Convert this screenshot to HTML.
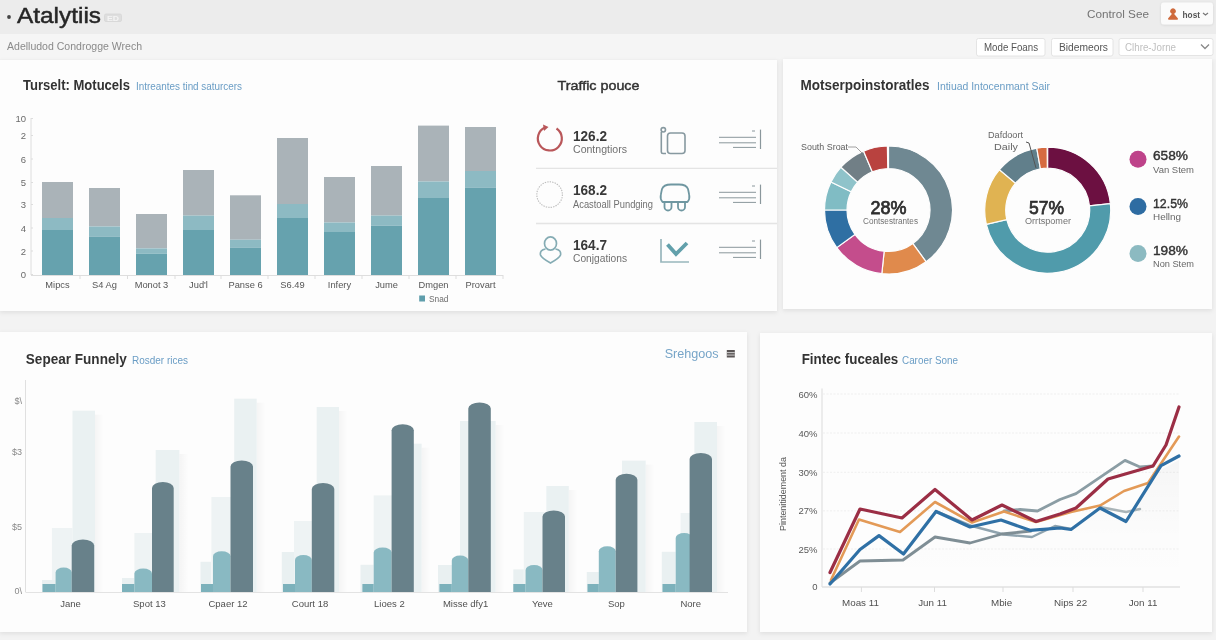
<!DOCTYPE html>
<html><head><meta charset="utf-8"><title>Analytics</title>
<style>
html,body{margin:0;padding:0;width:1216px;height:640px;overflow:hidden;background:#f3f3f3;}
svg{display:block;font-family:"Liberation Sans", sans-serif;filter:blur(0.55px);}
</style></head><body>
<svg width="1216" height="640" viewBox="0 0 1216 640">
<defs>
<filter id="sh" x="-20%" y="-30%" width="140%" height="160%"><feDropShadow dx="0" dy="0.5" stdDeviation="0.8" flood-color="#000" flood-opacity="0.12"/></filter>
<filter id="sh2" x="-5%" y="-5%" width="110%" height="110%"><feDropShadow dx="0" dy="1.5" stdDeviation="2" flood-color="#000" flood-opacity="0.09"/></filter>
<linearGradient id="fsh" x1="0" y1="0" x2="1" y2="0"><stop offset="0" stop-color="#000" stop-opacity="0.035"/><stop offset="1" stop-color="#000" stop-opacity="0"/></linearGradient>
<linearGradient id="lsh" x1="0" y1="0" x2="0" y2="1"><stop offset="0" stop-color="#000" stop-opacity="0.03"/><stop offset="0.6" stop-color="#000" stop-opacity="0.005"/><stop offset="1" stop-color="#000" stop-opacity="0"/></linearGradient>
</defs>
<rect x="0" y="0" width="1216" height="640" fill="#f3f3f3"/>
<rect x="0" y="0" width="1216" height="34" fill="#ececec"/>
<rect x="0" y="34" width="1216" height="25" fill="#f5f5f5"/>
<circle cx="9" cy="17" r="1.9" fill="#444"/>
<text x="17" y="22.5" font-size="22" fill="#262626" font-weight="400" text-anchor="start" textLength="84" lengthAdjust="spacingAndGlyphs" stroke="#262626" stroke-width="0.45">Atalytiis</text>
<rect x="104.5" y="14" width="17" height="7.5" rx="1.5" fill="#dedede" stroke="#d6d6d6" stroke-width="0.8"/>
<text x="107" y="20.5" font-size="7" fill="#f4f4f4" font-weight="700" text-anchor="start" textLength="12" lengthAdjust="spacingAndGlyphs" >ED</text>
<text x="1087" y="18" font-size="11.5" fill="#737373" font-weight="400" text-anchor="start" textLength="62" lengthAdjust="spacingAndGlyphs" >Control See</text>
<rect x="1161" y="2.5" width="52" height="22" rx="3" fill="#fbfbfb" filter="url(#sh)"/>
<g fill="#cf6a3c" stroke="#cf6a3c" stroke-linejoin="round"><circle cx="1173" cy="11.2" r="2.4"/><path d="M1169 18.8 L1173 14.2 L1177 18.8 Z" stroke-width="2"/></g>
<text x="1182.5" y="17.5" font-size="9" fill="#555" font-weight="700" text-anchor="start" textLength="17.5" lengthAdjust="spacingAndGlyphs" >host</text>
<path d="M1203 13 L1205.5 15 L1208 13" stroke="#777" stroke-width="1.2" fill="none"/>
<text x="7" y="50" font-size="11" fill="#8a8a8a" font-weight="400" text-anchor="start" textLength="135" lengthAdjust="spacingAndGlyphs" >Adelludod Condrogge Wrech</text>
<rect x="976.5" y="38.5" width="68.5" height="17.5" rx="2" fill="#fff" stroke="#e4e4e4"/>
<text x="984" y="51" font-size="10" fill="#555" font-weight="400" text-anchor="start" textLength="54" lengthAdjust="spacingAndGlyphs" >Mode Foans</text>
<rect x="1051.5" y="38.5" width="61.5" height="17.5" rx="2" fill="#fff" stroke="#e4e4e4"/>
<text x="1059" y="51" font-size="10" fill="#555" font-weight="400" text-anchor="start" textLength="49" lengthAdjust="spacingAndGlyphs" >Bidemeors</text>
<rect x="1119" y="38.5" width="94" height="17" rx="2" fill="#fff" stroke="#e4e4e4"/>
<text x="1125" y="51" font-size="10" fill="#c0c0c0" font-weight="400" text-anchor="start" textLength="51" lengthAdjust="spacingAndGlyphs" >Clhre-Jorne</text>
<path d="M1201 44.5 L1205 48.5 L1209 44.5" stroke="#888" stroke-width="1.3" fill="none"/>
<rect x="0" y="60" width="777" height="251" fill="#fdfdfd" filter="url(#sh2)"/>
<rect x="783" y="59" width="429" height="250" fill="#fdfdfd" filter="url(#sh2)"/>
<rect x="0" y="332" width="747" height="300" fill="#fdfdfd" filter="url(#sh2)"/>
<rect x="760" y="333" width="452" height="299" fill="#fdfdfd" filter="url(#sh2)"/>
<text x="23" y="90.4" font-size="15.5" fill="#333" font-weight="700" text-anchor="start" textLength="107" lengthAdjust="spacingAndGlyphs" >Turselt: Motucels</text>
<text x="136" y="90" font-size="10" fill="#6a9dc5" font-weight="400" text-anchor="start" textLength="106" lengthAdjust="spacingAndGlyphs" >Intreantes tind saturcers</text>
<text x="26" y="122" font-size="9.5" fill="#6a6a6a" font-weight="400" text-anchor="end" >10</text>
<text x="26" y="139" font-size="9.5" fill="#6a6a6a" font-weight="400" text-anchor="end" >2</text>
<text x="26" y="162.5" font-size="9.5" fill="#6a6a6a" font-weight="400" text-anchor="end" >6</text>
<text x="26" y="186" font-size="9.5" fill="#6a6a6a" font-weight="400" text-anchor="end" >5</text>
<text x="26" y="208" font-size="9.5" fill="#6a6a6a" font-weight="400" text-anchor="end" >3</text>
<text x="26" y="231.5" font-size="9.5" fill="#6a6a6a" font-weight="400" text-anchor="end" >4</text>
<text x="26" y="254.5" font-size="9.5" fill="#6a6a6a" font-weight="400" text-anchor="end" >2</text>
<text x="26" y="278" font-size="9.5" fill="#6a6a6a" font-weight="400" text-anchor="end" >0</text>
<line x1="31" y1="118" x2="31" y2="275" stroke="#dedede" stroke-width="1"/>
<line x1="31" y1="275.5" x2="503" y2="275.5" stroke="#dedede" stroke-width="1"/>
<line x1="31" y1="118.5" x2="33" y2="118.5" stroke="#ddd"/>
<line x1="31" y1="135.5" x2="33" y2="135.5" stroke="#ddd"/>
<line x1="31" y1="159.0" x2="33" y2="159.0" stroke="#ddd"/>
<line x1="31" y1="182.5" x2="33" y2="182.5" stroke="#ddd"/>
<line x1="31" y1="204.5" x2="33" y2="204.5" stroke="#ddd"/>
<line x1="31" y1="228.0" x2="33" y2="228.0" stroke="#ddd"/>
<line x1="31" y1="251.0" x2="33" y2="251.0" stroke="#ddd"/>
<line x1="31" y1="274.5" x2="33" y2="274.5" stroke="#ddd"/>
<rect x="42" y="182" width="31" height="36" fill="#aab3b8"/>
<rect x="42" y="218" width="31" height="12" fill="#8dbac3"/>
<rect x="42" y="230" width="31" height="45" fill="#66a2ae"/>
<text x="57.5" y="287.8" font-size="9.3" fill="#555" font-weight="400" text-anchor="middle" >Mipcs</text>
<rect x="89" y="188" width="31" height="38.5" fill="#aab3b8"/>
<rect x="89" y="226.5" width="31" height="10.0" fill="#8dbac3"/>
<rect x="89" y="236.5" width="31" height="38.5" fill="#66a2ae"/>
<text x="104.5" y="287.8" font-size="9.3" fill="#555" font-weight="400" text-anchor="middle" >S4 Ag</text>
<rect x="136" y="214" width="31" height="34.400000000000006" fill="#aab3b8"/>
<rect x="136" y="248.4" width="31" height="5.349999999999994" fill="#8dbac3"/>
<rect x="136" y="253.75" width="31" height="21.25" fill="#66a2ae"/>
<text x="151.5" y="287.8" font-size="9.3" fill="#555" font-weight="400" text-anchor="middle" >Monot 3</text>
<rect x="183" y="170" width="31" height="45.599999999999994" fill="#aab3b8"/>
<rect x="183" y="215.6" width="31" height="14.400000000000006" fill="#8dbac3"/>
<rect x="183" y="230" width="31" height="45" fill="#66a2ae"/>
<text x="198.5" y="287.8" font-size="9.3" fill="#555" font-weight="400" text-anchor="middle" >Jud'l</text>
<rect x="230" y="195.3" width="31" height="44.39999999999998" fill="#aab3b8"/>
<rect x="230" y="239.7" width="31" height="7.800000000000011" fill="#8dbac3"/>
<rect x="230" y="247.5" width="31" height="27.5" fill="#66a2ae"/>
<text x="245.5" y="287.8" font-size="9.3" fill="#555" font-weight="400" text-anchor="middle" >Panse 6</text>
<rect x="277" y="138" width="31" height="66" fill="#aab3b8"/>
<rect x="277" y="204" width="31" height="14" fill="#8dbac3"/>
<rect x="277" y="218" width="31" height="57" fill="#66a2ae"/>
<text x="292.5" y="287.8" font-size="9.3" fill="#555" font-weight="400" text-anchor="middle" >S6.49</text>
<rect x="324" y="177" width="31" height="45.5" fill="#aab3b8"/>
<rect x="324" y="222.5" width="31" height="9.5" fill="#8dbac3"/>
<rect x="324" y="232" width="31" height="43" fill="#66a2ae"/>
<text x="339.5" y="287.8" font-size="9.3" fill="#555" font-weight="400" text-anchor="middle" >Infery</text>
<rect x="371" y="166" width="31" height="49.599999999999994" fill="#aab3b8"/>
<rect x="371" y="215.6" width="31" height="10.0" fill="#8dbac3"/>
<rect x="371" y="225.6" width="31" height="49.400000000000006" fill="#66a2ae"/>
<text x="386.5" y="287.8" font-size="9.3" fill="#555" font-weight="400" text-anchor="middle" >Jume</text>
<rect x="418" y="125.6" width="31" height="55.900000000000006" fill="#aab3b8"/>
<rect x="418" y="181.5" width="31" height="16.5" fill="#8dbac3"/>
<rect x="418" y="198" width="31" height="77" fill="#66a2ae"/>
<text x="433.5" y="287.8" font-size="9.3" fill="#555" font-weight="400" text-anchor="middle" >Dmgen</text>
<rect x="465" y="127" width="31" height="44" fill="#aab3b8"/>
<rect x="465" y="171" width="31" height="16.5" fill="#8dbac3"/>
<rect x="465" y="187.5" width="31" height="87.5" fill="#66a2ae"/>
<text x="480.5" y="287.8" font-size="9.3" fill="#555" font-weight="400" text-anchor="middle" >Provart</text>
<line x1="80" y1="275" x2="80" y2="279" stroke="#ddd"/>
<line x1="127.5" y1="275" x2="127.5" y2="279" stroke="#ddd"/>
<line x1="175" y1="275" x2="175" y2="279" stroke="#ddd"/>
<line x1="221" y1="275" x2="221" y2="279" stroke="#ddd"/>
<line x1="268" y1="275" x2="268" y2="279" stroke="#ddd"/>
<line x1="315" y1="275" x2="315" y2="279" stroke="#ddd"/>
<line x1="362" y1="275" x2="362" y2="279" stroke="#ddd"/>
<line x1="409" y1="275" x2="409" y2="279" stroke="#ddd"/>
<line x1="456" y1="275" x2="456" y2="279" stroke="#ddd"/>
<line x1="503" y1="275" x2="503" y2="279" stroke="#ddd"/>
<rect x="419.2" y="295.5" width="5.8" height="6" fill="#5f9eac"/>
<text x="429" y="302" font-size="9" fill="#6e6e6e" font-weight="400" text-anchor="start" textLength="19.5" lengthAdjust="spacingAndGlyphs" >Snad</text>
<text x="557.5" y="90.3" font-size="13.5" fill="#333" font-weight="400" text-anchor="start" textLength="82" lengthAdjust="spacingAndGlyphs" stroke="#333" stroke-width="0.45">Traffic pouce</text>
<g fill="none" stroke="#b9575a" stroke-width="2.2"><path d="M556.5 128.5 A12 12 0 1 1 545 127.5"/></g>
<path d="M543 124.5 L548.5 127 L544 131Z" fill="#b9575a"/>
<text x="573" y="141" font-size="14.5" fill="#383838" font-weight="700" text-anchor="start" textLength="34" lengthAdjust="spacingAndGlyphs" >126.2</text>
<text x="573" y="153" font-size="10.3" fill="#707070" font-weight="400" text-anchor="start" textLength="54" lengthAdjust="spacingAndGlyphs" >Contngtiors</text>
<text x="573" y="195.4" font-size="14.5" fill="#383838" font-weight="700" text-anchor="start" textLength="34" lengthAdjust="spacingAndGlyphs" >168.2</text>
<text x="573" y="207.5" font-size="10.3" fill="#707070" font-weight="400" text-anchor="start" textLength="80" lengthAdjust="spacingAndGlyphs" >Acastoall Pundging</text>
<text x="573" y="250.3" font-size="14.5" fill="#383838" font-weight="700" text-anchor="start" textLength="34" lengthAdjust="spacingAndGlyphs" >164.7</text>
<text x="573" y="262" font-size="10.3" fill="#707070" font-weight="400" text-anchor="start" textLength="54" lengthAdjust="spacingAndGlyphs" >Conjgations</text>
<g stroke="#8a979c" stroke-width="1"><line x1="719" y1="137.3" x2="756" y2="137.3"/><line x1="719" y1="142.8" x2="756" y2="142.8"/><line x1="733" y1="147.4" x2="756" y2="147.4"/><line x1="752" y1="131" x2="755" y2="131"/></g>
<line x1="760.5" y1="129.6" x2="760.5" y2="149" stroke="#8a979c" stroke-width="1.2"/>
<g stroke="#8a979c" stroke-width="1"><line x1="719" y1="192.3" x2="756" y2="192.3"/><line x1="719" y1="197.8" x2="756" y2="197.8"/><line x1="733" y1="202.4" x2="756" y2="202.4"/><line x1="752" y1="186" x2="755" y2="186"/></g>
<line x1="760.5" y1="184.6" x2="760.5" y2="204" stroke="#8a979c" stroke-width="1.2"/>
<g stroke="#8a979c" stroke-width="1"><line x1="719" y1="247.3" x2="756" y2="247.3"/><line x1="719" y1="252.8" x2="756" y2="252.8"/><line x1="733" y1="257.4" x2="756" y2="257.4"/><line x1="752" y1="241" x2="755" y2="241"/></g>
<line x1="760.5" y1="239.6" x2="760.5" y2="259" stroke="#8a979c" stroke-width="1.2"/>
<line x1="536" y1="168.4" x2="777" y2="168.4" stroke="#e4e4e4" stroke-width="1.3"/>
<line x1="536" y1="223.5" x2="777" y2="223.5" stroke="#e4e4e4" stroke-width="1.3"/>
<g fill="none" stroke="#8799a0" stroke-width="1.6"><circle cx="663.3" cy="129.8" r="2.2"/><path d="M661.3 132 L661.3 152 Q661.3 153.5 663 153.5 L666 153.5"/><rect x="667.5" y="133" width="17.5" height="20.5" rx="3"/></g>
<circle cx="549.6" cy="194.6" r="12.8" fill="none" stroke="#bdbdbd" stroke-width="1.1" stroke-dasharray="1.4 1.1"/>
<g fill="none" stroke="#6f97a1" stroke-width="1.8" stroke-linejoin="round"><path d="M662.5 202 Q660 199 660.8 195 Q661.5 191 662 189 Q663.5 184.5 671 184.5 L679 184.5 Q686.5 184.5 688 189 Q688.5 191 689.2 195 Q690 199 687.5 202 Z"/><path d="M664.5 202 L664.5 207 A3.5 3.5 0 0 0 671.5 207 L671.5 202"/><path d="M678 202 L678 207 A3.5 3.5 0 0 0 685 207 L685 202"/></g>
<g fill="none" stroke="#85acb4" stroke-width="1.7"><ellipse cx="550.5" cy="243.5" rx="6" ry="6.6"/><path d="M545.5 249 Q539.5 250 540.5 255 Q541.5 258 550.5 263 Q559.5 258 560.5 255 Q561.5 250 555.5 249"/></g>
<g fill="none" stroke="#98b6bc" stroke-width="1.7"><path d="M661 239 L661 262 L689 262"/></g>
<path d="M667.5 244.5 L676 254 L687 243" fill="none" stroke="#62a0ab" stroke-width="3.8"/>
<text x="800.5" y="90.1" font-size="15.5" fill="#333" font-weight="700" text-anchor="start" textLength="129" lengthAdjust="spacingAndGlyphs" >Motserpoinstoratles</text>
<text x="937" y="90" font-size="10" fill="#6a9dc5" font-weight="400" text-anchor="start" textLength="113" lengthAdjust="spacingAndGlyphs" >Intiuad Intocenmant Sair</text>
<path d="M888.50 146.00 A64 64 0 0 1 926.12 261.78 L912.89 243.57 A41.5 41.5 0 0 0 888.50 168.50Z" fill="#6f8892" stroke="#fdfdfd" stroke-width="1.2"/>
<path d="M926.12 261.78 A64 64 0 0 1 881.81 273.65 L884.16 251.27 A41.5 41.5 0 0 0 912.89 243.57Z" fill="#e08a4c" stroke="#fdfdfd" stroke-width="1.2"/>
<path d="M881.81 273.65 A64 64 0 0 1 836.72 247.62 L854.93 234.39 A41.5 41.5 0 0 0 884.16 251.27Z" fill="#c44d8c" stroke="#fdfdfd" stroke-width="1.2"/>
<path d="M836.72 247.62 A64 64 0 0 1 824.50 210.00 L847.00 210.00 A41.5 41.5 0 0 0 854.93 234.39Z" fill="#2f6fa3" stroke="#fdfdfd" stroke-width="1.2"/>
<path d="M824.50 210.00 A64 64 0 0 1 830.98 181.94 L851.20 191.81 A41.5 41.5 0 0 0 847.00 210.00Z" fill="#80bcc4" stroke="#fdfdfd" stroke-width="1.2"/>
<path d="M830.98 181.94 A64 64 0 0 1 840.94 167.18 L857.66 182.23 A41.5 41.5 0 0 0 851.20 191.81Z" fill="#8fc3ca" stroke="#fdfdfd" stroke-width="1.2"/>
<path d="M840.94 167.18 A64 64 0 0 1 863.49 151.09 L872.28 171.80 A41.5 41.5 0 0 0 857.66 182.23Z" fill="#717f86" stroke="#fdfdfd" stroke-width="1.2"/>
<path d="M863.49 151.09 A64 64 0 0 1 887.38 146.01 L887.78 168.51 A41.5 41.5 0 0 0 872.28 171.80Z" fill="#b9423f" stroke="#fdfdfd" stroke-width="1.2"/>
<path d="M1047.70 147.20 A63 63 0 0 1 1110.35 203.61 L1089.47 205.81 A42 42 0 0 0 1047.70 168.20Z" fill="#6c1041" stroke="#fdfdfd" stroke-width="1.2"/>
<path d="M1110.35 203.61 A63 63 0 0 1 986.31 224.37 L1006.78 219.65 A42 42 0 0 0 1089.47 205.81Z" fill="#509bab" stroke="#fdfdfd" stroke-width="1.2"/>
<path d="M986.31 224.37 A63 63 0 0 1 999.44 169.70 L1015.53 183.20 A42 42 0 0 0 1006.78 219.65Z" fill="#e0b352" stroke="#fdfdfd" stroke-width="1.2"/>
<path d="M999.44 169.70 A63 63 0 0 1 1036.76 148.16 L1040.41 168.84 A42 42 0 0 0 1015.53 183.20Z" fill="#617f8b" stroke="#fdfdfd" stroke-width="1.2"/>
<path d="M1036.76 148.16 A63 63 0 0 1 1047.15 147.20 L1047.33 168.20 A42 42 0 0 0 1040.41 168.84Z" fill="#d66b40" stroke="#fdfdfd" stroke-width="1.2"/>
<text x="888.5" y="214" font-size="18" fill="#2e2e2e" font-weight="400" text-anchor="middle" textLength="36" lengthAdjust="spacingAndGlyphs" stroke="#2e2e2e" stroke-width="0.75">28%</text>
<text x="890.5" y="224" font-size="8.5" fill="#727272" font-weight="400" text-anchor="middle" textLength="55" lengthAdjust="spacingAndGlyphs" >Contsestrantes</text>
<text x="1046.5" y="213.5" font-size="18" fill="#2e2e2e" font-weight="400" text-anchor="middle" textLength="35" lengthAdjust="spacingAndGlyphs" stroke="#2e2e2e" stroke-width="0.75">57%</text>
<text x="1048" y="224" font-size="8.5" fill="#727272" font-weight="400" text-anchor="middle" textLength="46" lengthAdjust="spacingAndGlyphs" >Orrtspomer</text>
<text x="801" y="149.5" font-size="9" fill="#5e5e5e" font-weight="400" text-anchor="start" textLength="47" lengthAdjust="spacingAndGlyphs" >South Sroat</text>
<path d="M848 147 L856 147 L862 153" stroke="#888" stroke-width="0.8" fill="none"/>
<text x="988" y="138" font-size="9" fill="#666" font-weight="400" text-anchor="start" textLength="35" lengthAdjust="spacingAndGlyphs" >Dafdoort</text>
<text x="994" y="150" font-size="9" fill="#666" font-weight="400" text-anchor="start" textLength="24" lengthAdjust="spacingAndGlyphs" >Daily</text>
<path d="M1026 142 L1029 143 L1036 168" stroke="#555" stroke-width="1" fill="none"/>
<circle cx="1138" cy="159.2" r="8.5" fill="#be438a"/>
<text x="1153" y="160.2" font-size="12.5" fill="#333" font-weight="400" text-anchor="start" textLength="35" lengthAdjust="spacingAndGlyphs" stroke="#333" stroke-width="0.4">658%</text>
<text x="1153" y="172.7" font-size="9" fill="#686868" font-weight="400" text-anchor="start" textLength="41" lengthAdjust="spacingAndGlyphs" >Van Stem</text>
<circle cx="1138" cy="206.5" r="8.5" fill="#2e6ca2"/>
<text x="1153" y="207.5" font-size="12.5" fill="#333" font-weight="400" text-anchor="start" textLength="35" lengthAdjust="spacingAndGlyphs" stroke="#333" stroke-width="0.4">12.5%</text>
<text x="1153" y="220.0" font-size="9" fill="#686868" font-weight="400" text-anchor="start" textLength="28" lengthAdjust="spacingAndGlyphs" >Hellng</text>
<circle cx="1138" cy="253.5" r="8.5" fill="#8cbac1"/>
<text x="1153" y="254.5" font-size="12.5" fill="#333" font-weight="400" text-anchor="start" textLength="35" lengthAdjust="spacingAndGlyphs" stroke="#333" stroke-width="0.4">198%</text>
<text x="1153" y="267.0" font-size="9" fill="#686868" font-weight="400" text-anchor="start" textLength="41" lengthAdjust="spacingAndGlyphs" >Non Stem</text>
<text x="25.8" y="363.9" font-size="15.5" fill="#333" font-weight="700" text-anchor="start" textLength="101" lengthAdjust="spacingAndGlyphs" >Sepear Funnely</text>
<text x="132" y="364" font-size="10" fill="#6a9dc5" font-weight="400" text-anchor="start" textLength="56" lengthAdjust="spacingAndGlyphs" >Rosder rices</text>
<text x="664.7" y="357.5" font-size="12" fill="#77a5c8" font-weight="400" text-anchor="start" textLength="54" lengthAdjust="spacingAndGlyphs" >Srehgoos</text>
<rect x="726.8" y="350" width="8" height="7.5" fill="#5a5555"/><g fill="#ddd"><rect x="726.8" y="352.2" width="8" height="0.9"/><rect x="726.8" y="354.6" width="8" height="0.9"/></g>
<line x1="25.5" y1="380" x2="25.5" y2="592" stroke="#e0e0e0"/>
<line x1="25.5" y1="592.5" x2="728" y2="592.5" stroke="#e3e3e3"/>
<text x="22" y="404.1" font-size="9" fill="#888" font-weight="400" text-anchor="end" >$\</text>
<text x="22" y="454.5" font-size="9" fill="#888" font-weight="400" text-anchor="end" >$3</text>
<text x="22" y="529.5" font-size="9" fill="#888" font-weight="400" text-anchor="end" >$5</text>
<text x="22" y="593.5" font-size="9" fill="#888" font-weight="400" text-anchor="end" >0\</text>
<rect x="95" y="414.7" width="9" height="177.3" fill="url(#fsh)"/>
<rect x="72.5" y="410.7" width="22.5" height="181.3" fill="#eaf1f2"/>
<rect x="51.9" y="528" width="20.6" height="64" fill="#eef3f4"/>
<rect x="42" y="580" width="13.600000000000001" height="12" fill="#e9f0f1"/>
<rect x="42.5" y="584" width="13.100000000000001" height="8" fill="#7cb1bb"/>
<path d="M55.6 592 L55.6 572.5 A8.05 5 0 0 1 71.7 572.5 L71.7 592Z" fill="#89b9c2"/>
<path d="M71.7 592 L71.7 545.4 A11.25 6 0 0 1 94.2 545.4 L94.2 592Z" fill="#68818a"/>
<text x="70.6" y="607" font-size="9.5" fill="#505050" font-weight="400" text-anchor="middle" >Jane</text>
<rect x="179.4" y="454" width="9" height="138" fill="url(#fsh)"/>
<rect x="155.7" y="450" width="23.700000000000017" height="142" fill="#eaf1f2"/>
<rect x="134.4" y="533" width="21.299999999999983" height="59" fill="#eef3f4"/>
<rect x="122" y="578" width="12.400000000000006" height="14" fill="#e9f0f1"/>
<rect x="122" y="584" width="12.400000000000006" height="8" fill="#7cb1bb"/>
<path d="M134.4 592 L134.4 573.6 A8.799999999999997 5 0 0 1 152 573.6 L152 592Z" fill="#89b9c2"/>
<path d="M152 592 L152 488 A10.849999999999994 6 0 0 1 173.7 488 L173.7 592Z" fill="#68818a"/>
<text x="149.4" y="607" font-size="9.5" fill="#505050" font-weight="400" text-anchor="middle" >Spot 13</text>
<rect x="256.7" y="402.7" width="9" height="189.3" fill="url(#fsh)"/>
<rect x="234.2" y="398.7" width="22.5" height="193.3" fill="#eaf1f2"/>
<rect x="211.4" y="497" width="22.599999999999994" height="95" fill="#eef3f4"/>
<rect x="200.5" y="561.8" width="10.5" height="30.200000000000045" fill="#e9f0f1"/>
<rect x="201" y="584" width="12" height="8" fill="#7cb1bb"/>
<path d="M213 592 L213 556.3 A8.75 5 0 0 1 230.5 556.3 L230.5 592Z" fill="#89b9c2"/>
<path d="M230.5 592 L230.5 466.6 A11.25 6 0 0 1 253 466.6 L253 592Z" fill="#68818a"/>
<text x="228" y="607" font-size="9.5" fill="#505050" font-weight="400" text-anchor="middle" >Cpaer 12</text>
<rect x="339" y="411" width="9" height="181" fill="url(#fsh)"/>
<rect x="316.7" y="407" width="22.30000000000001" height="185" fill="#eaf1f2"/>
<rect x="294" y="521" width="22.69999999999999" height="71" fill="#eef3f4"/>
<rect x="281.8" y="552" width="12.199999999999989" height="40" fill="#e9f0f1"/>
<rect x="283" y="584" width="12" height="8" fill="#7cb1bb"/>
<path d="M295 592 L295 560 A8.400000000000006 5 0 0 1 311.8 560 L311.8 592Z" fill="#89b9c2"/>
<path d="M311.8 592 L311.8 489 A11.25 6 0 0 1 334.3 489 L334.3 592Z" fill="#68818a"/>
<text x="310" y="607" font-size="9.5" fill="#505050" font-weight="400" text-anchor="middle" >Court 18</text>
<rect x="421.6" y="447.7" width="9" height="144.3" fill="url(#fsh)"/>
<rect x="392" y="443.7" width="29.600000000000023" height="148.3" fill="#eaf1f2"/>
<rect x="373.7" y="495.4" width="18.69999999999999" height="96.60000000000002" fill="#eef3f4"/>
<rect x="360.5" y="564.8" width="13.199999999999989" height="27.200000000000045" fill="#e9f0f1"/>
<rect x="362.4" y="584" width="11.300000000000011" height="8" fill="#7cb1bb"/>
<path d="M373.7 592 L373.7 552.5 A8.950000000000017 5 0 0 1 391.6 552.5 L391.6 592Z" fill="#89b9c2"/>
<path d="M391.6 592 L391.6 430.2 A11.099999999999994 6 0 0 1 413.8 430.2 L413.8 592Z" fill="#68818a"/>
<text x="389.4" y="607" font-size="9.5" fill="#505050" font-weight="400" text-anchor="middle" >Lioes 2</text>
<rect x="495.6" y="425" width="9" height="167" fill="url(#fsh)"/>
<rect x="460" y="421" width="35.60000000000002" height="171" fill="#eaf1f2"/>
<rect x="438" y="565" width="14.5" height="27" fill="#e9f0f1"/>
<rect x="439.4" y="584" width="12.400000000000034" height="8" fill="#7cb1bb"/>
<path d="M451.8 592 L451.8 560.5 A8.25 5 0 0 1 468.3 560.5 L468.3 592Z" fill="#89b9c2"/>
<path d="M468.3 592 L468.3 408.5 A11.25 6 0 0 1 490.8 408.5 L490.8 592Z" fill="#68818a"/>
<text x="465.6" y="607" font-size="9.5" fill="#505050" font-weight="400" text-anchor="middle" >Misse dfy1</text>
<rect x="568.8" y="490" width="9" height="102" fill="url(#fsh)"/>
<rect x="546.3" y="486" width="22.5" height="106" fill="#eaf1f2"/>
<rect x="523.8" y="512" width="22.200000000000045" height="80" fill="#eef3f4"/>
<rect x="513.3" y="569.4" width="10.5" height="22.600000000000023" fill="#e9f0f1"/>
<rect x="513.3" y="584" width="12.300000000000068" height="8" fill="#7cb1bb"/>
<path d="M525.6 592 L525.6 570 A8.449999999999989 5 0 0 1 542.5 570 L542.5 592Z" fill="#89b9c2"/>
<path d="M542.5 592 L542.5 516.5 A11.25 6 0 0 1 565 516.5 L565 592Z" fill="#68818a"/>
<text x="542.5" y="607" font-size="9.5" fill="#505050" font-weight="400" text-anchor="middle" >Yeve</text>
<rect x="645.7" y="464.6" width="9" height="127.39999999999998" fill="url(#fsh)"/>
<rect x="622" y="460.6" width="23.700000000000045" height="131.39999999999998" fill="#eaf1f2"/>
<rect x="586.8" y="572" width="12.0" height="20" fill="#e9f0f1"/>
<rect x="587.5" y="584" width="11.299999999999955" height="8" fill="#7cb1bb"/>
<path d="M598.8 592 L598.8 551.2 A8.450000000000045 5 0 0 1 615.7 551.2 L615.7 592Z" fill="#89b9c2"/>
<path d="M615.7 592 L615.7 479.8 A10.849999999999966 6 0 0 1 637.4 479.8 L637.4 592Z" fill="#68818a"/>
<text x="616.4" y="607" font-size="9.5" fill="#505050" font-weight="400" text-anchor="middle" >Sop</text>
<rect x="717" y="426" width="9" height="166" fill="url(#fsh)"/>
<rect x="694.4" y="422" width="22.600000000000023" height="170" fill="#eaf1f2"/>
<rect x="680.6" y="513" width="13.399999999999977" height="79" fill="#eef3f4"/>
<rect x="661.8" y="551.8" width="13.900000000000091" height="40.200000000000045" fill="#e9f0f1"/>
<rect x="662.5" y="584" width="13.200000000000045" height="8" fill="#7cb1bb"/>
<path d="M675.7 592 L675.7 538 A8.449999999999989 5 0 0 1 692.6 538 L692.6 592Z" fill="#89b9c2"/>
<path d="M689.6 592 L689.6 459 A11.199999999999989 6 0 0 1 712 459 L712 592Z" fill="#68818a"/>
<text x="690.7" y="607" font-size="9.5" fill="#505050" font-weight="400" text-anchor="middle" >Nore</text>
<text x="801.7" y="364" font-size="15.5" fill="#333" font-weight="700" text-anchor="start" textLength="96.6" lengthAdjust="spacingAndGlyphs" >Fintec fuceales</text>
<text x="902" y="364" font-size="10" fill="#6a9dc5" font-weight="400" text-anchor="start" textLength="56" lengthAdjust="spacingAndGlyphs" >Caroer Sone</text>
<line x1="822" y1="388.5" x2="822" y2="587" stroke="#e3e3e3" stroke-width="1.3"/>
<line x1="822" y1="587" x2="1180" y2="587" stroke="#e0e0e0" stroke-width="1.5"/>
<text x="817.5" y="397.5" font-size="9.5" fill="#595959" font-weight="400" text-anchor="end" >60%</text>
<line x1="823" y1="394" x2="1180" y2="394" stroke="#efefef" stroke-dasharray="2 1.5"/>
<text x="817.5" y="436.5" font-size="9.5" fill="#595959" font-weight="400" text-anchor="end" >40%</text>
<line x1="823" y1="433" x2="1180" y2="433" stroke="#efefef" stroke-dasharray="2 1.5"/>
<text x="817.5" y="475.8" font-size="9.5" fill="#595959" font-weight="400" text-anchor="end" >30%</text>
<line x1="823" y1="472.3" x2="1180" y2="472.3" stroke="#efefef" stroke-dasharray="2 1.5"/>
<text x="817.5" y="514.3" font-size="9.5" fill="#595959" font-weight="400" text-anchor="end" >27%</text>
<line x1="823" y1="510.8" x2="1180" y2="510.8" stroke="#efefef" stroke-dasharray="2 1.5"/>
<text x="817.5" y="552.5" font-size="9.5" fill="#595959" font-weight="400" text-anchor="end" >25%</text>
<line x1="823" y1="549" x2="1180" y2="549" stroke="#efefef" stroke-dasharray="2 1.5"/>
<text x="817.5" y="590.25" font-size="9.5" fill="#595959" font-weight="400" text-anchor="end" >0</text>
<line x1="861.4" y1="587" x2="861.4" y2="592" stroke="#ddd"/>
<line x1="934.5" y1="587" x2="934.5" y2="592" stroke="#ddd"/>
<line x1="1003" y1="587" x2="1003" y2="592" stroke="#ddd"/>
<line x1="1073" y1="587" x2="1073" y2="592" stroke="#ddd"/>
<line x1="1143" y1="587" x2="1143" y2="592" stroke="#ddd"/>
<text x="860.5" y="606" font-size="9.8" fill="#4f4f4f" font-weight="400" text-anchor="middle" >Moas 11</text>
<text x="932.5" y="606" font-size="9.8" fill="#4f4f4f" font-weight="400" text-anchor="middle" >Jun 11</text>
<text x="1001.6" y="606" font-size="9.8" fill="#4f4f4f" font-weight="400" text-anchor="middle" >Mbie</text>
<text x="1070.5" y="606" font-size="9.8" fill="#4f4f4f" font-weight="400" text-anchor="middle" >Nips 22</text>
<text x="1143" y="606" font-size="9.8" fill="#4f4f4f" font-weight="400" text-anchor="middle" >Jon 11</text>
<text x="0" y="0" font-size="9" fill="#555" transform="translate(786 531) rotate(-90)" textLength="74" lengthAdjust="spacingAndGlyphs">Pintenitidement da</text>
<polygon points="830,584 860,561 903,560 935,537 970,543 1002,534 1031,531 1071,529 1100,508 1126,521 1161,470 1179,460 1179,587 830,587" fill="url(#lsh)"/>
<polyline points="936,511 972,526 1004,534.5 1032,537 1055,526 1071,529" fill="none" stroke="#8fa3ae" stroke-width="2.4" stroke-linejoin="round" stroke-linecap="round"/>
<polyline points="1100,507 1126,512 1140,509" fill="none" stroke="#a9b4b8" stroke-width="2.4" stroke-linejoin="round" stroke-linecap="round"/>
<polyline points="830,583 860,561 903,560 935,537 970,543 1002,534 1031,531" fill="none" stroke="#7f8e95" stroke-width="2.8" stroke-linejoin="round" stroke-linecap="round"/>
<polyline points="1004,511 1020,509.5 1037.5,511 1060,499.5 1076,493.6 1125,460.4 1140,467 1153,466" fill="none" stroke="#8b9da4" stroke-width="2.8" stroke-linejoin="round" stroke-linecap="round"/>
<polyline points="831,580 859,519.5 900,532 935,502 972,522.5 1004,511.5 1036,522 1071,512 1100,505.6 1124,491 1148,483 1179,436.5" fill="none" stroke="#e39a57" stroke-width="2.6" stroke-linejoin="round" stroke-linecap="round"/>
<polyline points="830,584 860,549.5 879,535.6 903.5,554 936,511.5 970,527 1001,520 1030,530.3 1060,528 1071,529.5 1100,508 1126,521.5 1161,465.7 1179,456" fill="none" stroke="#2f70a5" stroke-width="3.2" stroke-linejoin="round" stroke-linecap="round"/>
<polyline points="830,572.5 860,509 902,518 935,489.5 972,520 1002,505 1036,521.5 1060,514 1076,508 1108,479 1153,466 1166,445 1179,407" fill="none" stroke="#9b2e45" stroke-width="3.2" stroke-linejoin="round" stroke-linecap="round"/>
</svg>
</body></html>
